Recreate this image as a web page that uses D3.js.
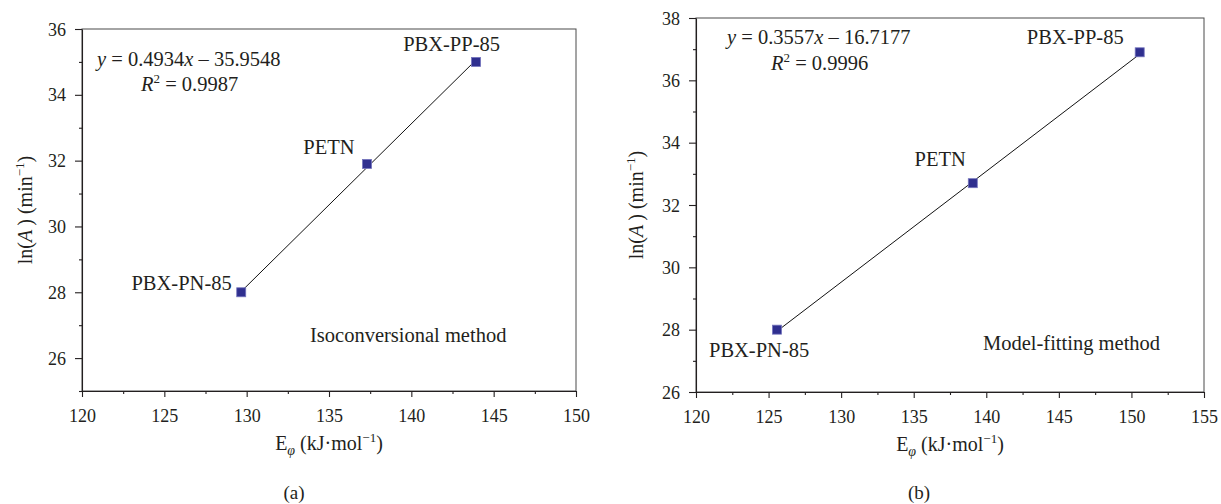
<!DOCTYPE html>
<html>
<meta charset="utf-8">
<head>
    <script src="https://cdnjs.cloudflare.com/ajax/libs/d3/7.8.5/d3.min.js"></script>
</head>
<style>
body {
    margin: 0;
    background: #fff;
}
svg, svg text {
    font-family: "Liberation Serif", "DejaVu Serif", serif;
}
svg text {
    fill: #231f20;
}
.axis .domain, .axis .tick line {
    stroke: #231f20;
    stroke-width: 1.1px;
}
.axis .tick text {
    font-size: 18px;
}
.label {
    font-size: 20.5px;
}
</style>
<body>
<svg id="canvas" width="1221" height="504"></svg>
<script>
// sample names, shared by both panels
const names = ["PBX-PN-85", "PETN", "PBX-PP-85"];

// (a) isoconversional method
const energyA = [129.67, 137.31, 143.93];
const lnAA    = [28.0, 31.9, 35.0];
const fitA    = [0.4934, -35.9548];
const r2A     = "0.9987";
const xTicksA = [120, 125, 130, 135, 140, 145, 150];
const yTicksA = [26, 28, 30, 32, 34, 36];

// (b) model-fitting method
const energyB = [125.58, 139.07, 150.57];
const lnAB    = [28.0, 32.7, 36.9];
const fitB    = [0.3557, -16.7177];
const r2B     = "0.9996";
const xTicksB = [120, 125, 130, 135, 140, 145, 150, 155];
const yTicksB = [26, 28, 30, 32, 34, 36, 38];

const serif = '"Liberation Serif", "DejaVu Serif", serif';
const svg = d3.select("#canvas");

// panel layout (pixels)
const panels = [
    {
        left: 82, top: 29, width: 494, height: 362,
        xDomain: [120, 150], yDomain: [25, 36],
        xTicks: xTicksA, yTicks: yTicksA,
        xMinor: d3.range(122.5, 150, 5), yMinor: d3.range(25, 36, 2),
        energy: energyA, lnA: lnAA, fit: fitA, r2: r2A,
        method: "Isoconversional method", tag: "(a)",
        // [dx, dy, anchor] for each point label
        labelPos: [[-9.5, -2, "end"], [-12.5, -9.5, "end"], [-24.5, -11, "middle"]],
        eqPos: [15, 37], r2Pos: [59, 62], methodPos: [228, 313],
        yTitleX: -50, tagX: -35
    },
    {
        left: 696, top: 18, width: 508, height: 374,
        xDomain: [120, 155], yDomain: [26, 38],
        xTicks: xTicksB, yTicks: yTicksB,
        xMinor: d3.range(122.5, 155, 5), yMinor: d3.range(27, 38, 2),
        energy: energyB, lnA: lnAB, fit: fitB, r2: r2B,
        method: "Model-fitting method", tag: "(b)",
        labelPos: [[-68, 27, "start"], [-7, -17.5, "end"], [-16, -8, "end"]],
        eqPos: [31, 26], r2Pos: [75, 52], methodPos: [287, 332],
        yTitleX: -53, tagX: -31
    }
];

panels.forEach(drawPanel);

function drawPanel(p) {
    const g = svg.append("g")
        .attr("transform", `translate(${p.left},${p.top})`);

    const x = d3.scaleLinear().domain(p.xDomain).range([0, p.width]);
    const y = d3.scaleLinear().domain(p.yDomain).range([p.height, 0]);

    // frame (top and right edges)
    g.append("rect")
        .attr("width", p.width)
        .attr("height", p.height)
        .attr("fill", "none")
        .attr("stroke", "#4a4a4a")
        .attr("stroke-width", 1);

    // minor ticks
    g.append("g").classed("axis", true)
        .attr("transform", `translate(0,${p.height})`)
        .call(d3.axisBottom(x).tickValues(p.xMinor).tickSize(3).tickFormat(""))
        .call(a => a.select(".domain").remove());
    g.append("g").classed("axis", true)
        .call(d3.axisLeft(y).tickValues(p.yMinor).tickSize(3).tickFormat(""))
        .call(a => a.select(".domain").remove());

    // major axes
    g.append("g").classed("axis", true)
        .attr("transform", `translate(0,${p.height})`)
        .call(d3.axisBottom(x).tickValues(p.xTicks).tickSize(6).tickSizeOuter(0).tickPadding(12))
        .attr("font-family", serif).attr("font-size", 18);
    g.append("g").classed("axis", true)
        .call(d3.axisLeft(y).tickValues(p.yTicks).tickSize(7).tickSizeOuter(0).tickPadding(9))
        .attr("font-family", serif).attr("font-size", 18)
        .selectAll(".tick text").attr("dy", "0.34em");

    // fitted line across the data range
    const xr = d3.extent(p.energy);
    const line = d3.line()
        .x(d => x(d))
        .y(d => y(p.fit[0] * d + p.fit[1]));
    g.append("path")
        .datum(xr)
        .attr("d", line)
        .attr("fill", "none")
        .attr("stroke", "#111")
        .attr("stroke-width", 1);

    // points
    const pts = p.energy.map((e, i) => ({e: e, v: p.lnA[i], name: names[i], pos: p.labelPos[i]}));
    g.selectAll("rect.pt")
        .data(pts)
        .join("rect")
        .classed("pt", true)
        .attr("x", d => x(d.e) - 4.5)
        .attr("y", d => y(d.v) - 4.5)
        .attr("width", 9)
        .attr("height", 9)
        .attr("fill", "#2f2f8f")
        .attr("stroke", "#7474bd")
        .attr("stroke-width", 0.8);

    g.selectAll("text.name")
        .data(pts)
        .join("text")
        .attr("class", "name label")
        .attr("x", d => x(d.e) + d.pos[0])
        .attr("y", d => y(d.v) + d.pos[1])
        .attr("text-anchor", d => d.pos[2])
        .text(d => d.name);

    // equation and R^2
    const eq = g.append("text").classed("label", true)
        .attr("x", p.eqPos[0]).attr("y", p.eqPos[1]);
    eq.append("tspan").attr("font-style", "italic").text("y");
    eq.append("tspan").text(" = " + p.fit[0]);
    eq.append("tspan").attr("font-style", "italic").text("x");
    eq.append("tspan").text(" \u2013 " + Math.abs(p.fit[1]).toFixed(4));

    const r2 = g.append("text").classed("label", true)
        .attr("x", p.r2Pos[0]).attr("y", p.r2Pos[1]);
    r2.append("tspan").attr("font-style", "italic").text("R");
    r2.append("tspan").attr("font-size", "13px").attr("dy", -8).text("2");
    r2.append("tspan").attr("dy", 8).text(" = " + p.r2);

    g.append("text").classed("label", true)
        .attr("x", p.methodPos[0]).attr("y", p.methodPos[1])
        .text(p.method);

    // x axis title
    const xt = g.append("text")
        .attr("x", p.width / 2).attr("y", p.height + 59)
        .attr("text-anchor", "middle")
        .style("font-size", "20px");
    xt.append("tspan").text("E");
    xt.append("tspan").attr("font-style", "italic").attr("font-size", "14px").attr("dy", 5).text("\u03c6");
    xt.append("tspan").attr("dy", -5).text(" (kJ\u00b7mol");
    xt.append("tspan").attr("font-size", "13px").attr("dy", -8).text("\u22121");
    xt.append("tspan").attr("dy", 8).text(")");

    // y axis title
    const yt = g.append("text")
        .attr("transform", `translate(${p.yTitleX},${p.height / 2}) rotate(-90)`)
        .attr("text-anchor", "middle")
        .style("font-size", "20px");
    yt.append("tspan").text("ln(");
    yt.append("tspan").attr("font-style", "italic").text("A");
    yt.append("tspan").text("\u2009) (min");
    yt.append("tspan").attr("font-size", "13px").attr("dy", -8).text("\u22121");
    yt.append("tspan").attr("dy", 8).text(")");

    // panel tag
    g.append("text")
        .attr("x", p.width / 2 + p.tagX)
        .attr("y", 499 - p.top)
        .attr("text-anchor", "middle")
        .style("font-size", "19px")
        .text(p.tag);
}
</script>
</body>
</html>
